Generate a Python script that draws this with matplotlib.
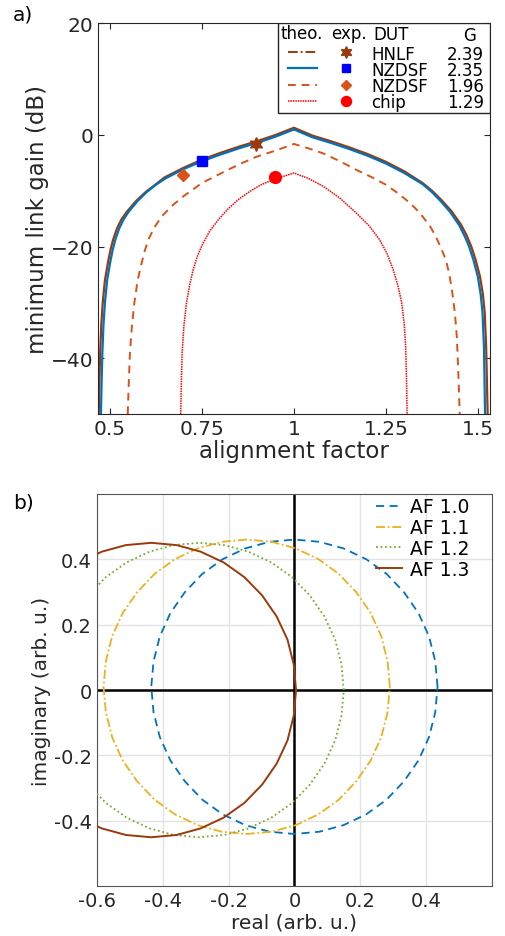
import matplotlib
matplotlib.use('Agg')
import matplotlib.pyplot as plt
from matplotlib.patches import Rectangle

plt.rcParams['font.family'] = ['DejaVu Sans']

# panel a: minimum link gain vs alignment factor (theory curves)
hnlf_x = [0.469, 0.471, 0.473, 0.476, 0.480, 0.486, 0.494, 0.501, 0.508, 0.519, 0.531, 0.545, 0.571, 0.597,
          0.623, 0.648, 0.699, 0.75, 0.8, 0.85, 0.9, 0.95, 1.0, 1.05, 1.1, 1.15, 1.2, 1.25, 1.3, 1.35,
          1.376, 1.402, 1.428, 1.454, 1.47, 1.482, 1.494, 1.506, 1.514, 1.519, 1.523, 1.527]
hnlf_y = [-50, -44, -39, -34, -30, -26, -22.9, -20.6, -18.8, -16.7, -15.1, -13.8, -11.8, -10.2,
          -8.9, -7.6, -5.9, -4.4, -3.2, -2.1, -1.1, 0.0, 1.3, -0.1, -1.1, -2.2, -3.4, -4.8, -6.5, -8.6,
          -10.0, -11.7, -13.6, -16.0, -18, -19.9, -22.3, -25.3, -28.5, -31.8, -38, -50]
nz1_x = [0.475, 0.477, 0.479, 0.482, 0.486, 0.492, 0.5, 0.507, 0.514, 0.525, 0.537, 0.55, 0.575, 0.6,
         0.625, 0.65, 0.7, 0.75, 0.8, 0.85, 0.9, 0.95, 1.0, 1.05, 1.1, 1.15, 1.2, 1.25, 1.3, 1.35,
         1.375, 1.4, 1.425, 1.45, 1.465, 1.476, 1.488, 1.5, 1.508, 1.513, 1.517, 1.52]
nz1_y = [-50, -44, -39, -34, -30, -26, -22.9, -20.6, -18.8, -16.7, -15.1, -13.8, -11.8, -10.2,
         -8.9, -7.8, -6.1, -4.7, -3.5, -2.4, -1.4, -0.3, 1.0, -0.4, -1.4, -2.5, -3.7, -5.1, -6.8, -8.8,
         -10.2, -11.9, -13.8, -16.2, -18.2, -19.9, -22.3, -25.3, -28.5, -31.8, -38, -50]
nz2_x = [0.548, 0.551, 0.554, 0.559, 0.566, 0.575, 0.586, 0.595, 0.604, 0.62, 0.64, 0.67, 0.699, 0.75,
         0.82, 0.86, 0.898, 0.95, 1.0, 1.04, 1.08, 1.125, 1.17, 1.21, 1.25, 1.28, 1.305, 1.33, 1.35,
         1.37, 1.386, 1.40, 1.413, 1.423, 1.431, 1.438, 1.443, 1.447, 1.451]
nz2_y = [-50, -44, -39, -34.5, -30, -26, -22.9, -20.6, -18.75, -16.6, -14.6, -12.6, -11, -8.6,
         -6.25, -5.0, -3.9, -2.8, -1.6, -2.4, -3.3, -4.7, -6.25, -7.5, -8.9, -10.3, -11.6, -13.1, -14.6,
         -16.3, -18.2, -20.2, -22.3, -25, -28.3, -32, -36, -42, -50]
chip_x = [0.692, 0.694, 0.696, 0.701, 0.708, 0.716, 0.726, 0.737, 0.749, 0.77, 0.794, 0.82, 0.848, 0.88,
          0.911, 0.948, 1.0, 1.04, 1.08, 1.125, 1.17, 1.205, 1.233, 1.253, 1.27, 1.283, 1.293, 1.3,
          1.304, 1.306, 1.308]
chip_y = [-50, -44, -39, -34, -30, -27, -24.1, -21.8, -19.9, -17.3, -15.2, -13.3, -11.6, -10.1,
          -8.9, -7.9, -6.8, -7.8, -9.2, -11.3, -14, -16.3, -18.75, -21.2, -24.1, -27, -30, -33.8,
          -37.8, -43, -50]

# measured points
exp_x = [0.898, 0.75, 0.699, 0.948]
exp_y = [-1.7, -4.6, -7.1, -7.6]
duts = ['HNLF', 'NZDSF', 'NZDSF', 'chip']
gains = ['2.39', '2.35', '1.96', '1.29']

# panel b: loci in the complex plane
af10_x = [0.435, 0.428, 0.409, 0.377, 0.333, 0.280, 0.218, 0.149, 0.076, 0.0,
          -0.076, -0.149, -0.218, -0.280, -0.333, -0.377, -0.409, -0.428, -0.435,
          -0.428, -0.409, -0.377, -0.333, -0.280, -0.218, -0.149, -0.076, 0.0,
          0.076, 0.149, 0.218, 0.280, 0.333, 0.377, 0.409, 0.428, 0.435]
af10_y = [0.01, 0.088, 0.164, 0.235, 0.299, 0.355, 0.400, 0.433, 0.453, 0.46,
          0.453, 0.433, 0.400, 0.355, 0.299, 0.235, 0.164, 0.088, 0.01,
          -0.068, -0.144, -0.215, -0.279, -0.335, -0.380, -0.413, -0.433, -0.44,
          -0.433, -0.413, -0.380, -0.335, -0.279, -0.215, -0.144, -0.068, 0.01]
af11_x = [0.290, 0.283, 0.264, 0.232, 0.188, 0.135, 0.073, 0.004, -0.069, -0.145,
          -0.221, -0.294, -0.363, -0.425, -0.478, -0.522, -0.554, -0.573, -0.580,
          -0.573, -0.554, -0.522, -0.478, -0.425, -0.363, -0.294, -0.221, -0.145,
          -0.069, 0.004, 0.073, 0.135, 0.188, 0.232, 0.264, 0.283, 0.290]
af11_y = af10_y
af12_x = [0.15, 0.143, 0.124, 0.091, 0.047, -0.007, -0.07, -0.14, -0.213, -0.29,
          -0.367, -0.44, -0.51, -0.573, -0.627, -0.671, -0.704, -0.723, -0.73,
          -0.723, -0.704, -0.671, -0.627, -0.573, -0.51, -0.44, -0.367, -0.29,
          -0.213, -0.14, -0.07, -0.007, 0.047, 0.091, 0.124, 0.143, 0.15]
af12_y = [0.0, 0.078, 0.154, 0.225, 0.289, 0.345, 0.390, 0.423, 0.443, 0.45,
          0.443, 0.423, 0.390, 0.345, 0.289, 0.225, 0.154, 0.078, 0.0,
          -0.078, -0.154, -0.225, -0.289, -0.345, -0.390, -0.423, -0.443, -0.45,
          -0.443, -0.423, -0.390, -0.345, -0.289, -0.225, -0.154, -0.078, 0.0]
af13_x = [0.005, -0.002, -0.021, -0.054, -0.098, -0.152, -0.215, -0.285, -0.358, -0.435,
          -0.512, -0.585, -0.655, -0.718, -0.772, -0.816, -0.849, -0.868, -0.875,
          -0.868, -0.849, -0.816, -0.772, -0.718, -0.655, -0.585, -0.512, -0.435,
          -0.358, -0.285, -0.215, -0.152, -0.098, -0.054, -0.021, -0.002, 0.005]
af13_y = af12_y

BROWN = '#9A3A0C'
BLUE = '#0072BD'
ORANGE = '#D95319'
YELLOW = '#EDB120'
GREEN = '#77AC30'
INK = '#262626'

fig = plt.figure(figsize=(5.05, 9.37), dpi=100)

# ---------------- panel a
ax = fig.add_axes([0.194, 0.557, 0.776, 0.417])
ax.plot(hnlf_x, hnlf_y, color=BROWN, lw=1.6)
ax.plot(nz1_x, nz1_y, color=BLUE, lw=1.6)
ax.plot(nz2_x, nz2_y, color=ORANGE, lw=1.4, dashes=(4, 3))
ax.plot(chip_x, chip_y, color='red', lw=1.1, ls=(0, (1, 0.6)))

mk = [(6, 1, 0), 's', 'D', 'o']
mc = [BROWN, '#0000FF', ORANGE, '#FF0000']
ms = [10, 6.5, 6.5, 8.5]
for i in range(len(exp_x)):
    ax.plot(exp_x[i], exp_y[i], marker=mk[i], color=mc[i], ms=ms[i], ls='none')

ax.set_xlim(0.467, 1.533)
ax.set_ylim(-50, 20)
ax.set_xticks([0.5, 0.75, 1, 1.25, 1.5])
ax.set_xticklabels(['0.5', '0.75', '1', '1.25', '1.5'])
ax.set_yticks([-40, -20, 0, 20])
ax.tick_params(direction='in', top=True, right=True, labelsize=14.5, length=4, colors=INK)
ax.set_xlabel('alignment factor', fontsize=16.5, color=INK, labelpad=1)
ax.set_ylabel('minimum link gain (dB)', fontsize=16.5, color=INK, labelpad=1)
for s in ax.spines.values():
    s.set_color(INK)

# table-style legend (baselines in axes fraction)
ax.add_patch(Rectangle((0.46, 0.77), 0.54, 0.23, transform=ax.transAxes, fill=True,
                       facecolor='white', edgecolor=INK, lw=1.0, zorder=5))
fs = 12
hb = 0.963
ax.text(0.466, hb, 'theo.', transform=ax.transAxes, fontsize=fs, va='baseline', zorder=6)
ax.text(0.596, hb, 'exp.', transform=ax.transAxes, fontsize=fs, va='baseline', zorder=6)
ax.text(0.747, hb - 0.003, 'DUT', transform=ax.transAxes, fontsize=fs, va='baseline', ha='center', zorder=6)
ax.text(0.949, hb - 0.006, 'G', transform=ax.transAxes, fontsize=fs, va='baseline', ha='center', zorder=6)
row_base = [0.9097, 0.8680, 0.8263, 0.7847]
styles = [dict(color=BROWN, lw=1.4, ls=(0, (5, 1.5, 1, 1.5))),
          dict(color=BLUE, lw=1.6),
          dict(color=ORANGE, lw=1.4, dashes=(4, 3)),
          dict(color='red', lw=1.1, ls=(0, (1, 0.6)))]
for i, yb in enumerate(row_base):
    ym = yb + 0.017
    ax.plot([0.485, 0.558], [ym, ym], transform=ax.transAxes, zorder=6, **styles[i])
    ax.plot([0.634], [ym], transform=ax.transAxes, marker=mk[i], color=mc[i], ms=ms[i] * 0.85,
            ls='none', zorder=6)
    ax.text(0.698, yb, duts[i], transform=ax.transAxes, fontsize=fs, va='baseline', zorder=6)
    ax.text(0.985, yb, gains[i], transform=ax.transAxes, fontsize=fs, va='baseline', ha='right', zorder=6)

fig.text(0.026, 0.984, 'a)', fontsize=14.5, va='center')

# ---------------- panel b
bx = fig.add_axes([0.192, 0.053, 0.782, 0.419])
bx.grid(True, color='#E3E3E3', lw=1.0)
bx.axhline(0, color='black', lw=1.8, zorder=2)
bx.axvline(0, color='black', lw=1.8, zorder=2)
bx.plot(af10_x, af10_y, color=BLUE, lw=1.3, dashes=(4.5, 3), label='AF 1.0', zorder=3)
bx.plot(af11_x, af11_y, color=YELLOW, lw=1.3, ls=(0, (5, 1.5, 1, 1.5)), label='AF 1.1', zorder=3)
bx.plot(af12_x, af12_y, color=GREEN, lw=1.3, ls=(0, (1, 1.5)), label='AF 1.2', zorder=3)
bx.plot(af13_x, af13_y, color=BROWN, lw=1.4, label='AF 1.3', zorder=3)
bx.set_xlim(-0.6, 0.6)
bx.set_ylim(-0.6, 0.6)
bx.set_xticks([-0.6, -0.4, -0.2, 0, 0.2, 0.4])
bx.set_xticklabels(['-0.6', '-0.4', '-0.2', '0', '0.2', '0.4'])
bx.set_yticks([-0.4, -0.2, 0, 0.2, 0.4])
bx.set_yticklabels(['-0.4', '-0.2', '0', '0.2', '0.4'])
bx.tick_params(direction='in', length=0, labelsize=14, colors=INK)
bx.set_xlabel('real (arb. u.)', fontsize=14.5, color=INK, labelpad=2)
bx.set_ylabel('imaginary (arb. u.)', fontsize=14.5, color=INK, labelpad=2)
for s in bx.spines.values():
    s.set_color('#555555')
bx.legend(loc='upper right', bbox_to_anchor=(0.963, 1.01), frameon=False, fontsize=13.5,
          handlelength=1.4, handletextpad=0.45, labelspacing=0.1, borderaxespad=0)

fig.text(0.026, 0.463, 'b)', fontsize=14.5, va='center')

fig.savefig('out.png', dpi=100)
